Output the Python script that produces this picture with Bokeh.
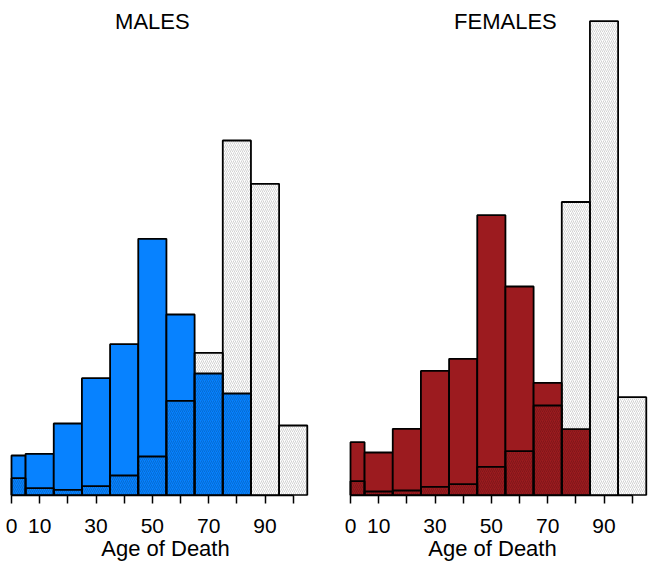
from bokeh.plotting import figure
from bokeh.models import Range1d, LinearAxis, FixedTicker, Label
from bokeh.layouts import row
from bokeh.embed import file_html
from bokeh.resources import INLINE

# Age bins (years)
bin_left = [0, 5, 15, 25, 35, 45, 55, 65, 75, 85, 95]
bin_right = [5, 15, 25, 35, 45, 55, 65, 75, 85, 95, 105]

# Males: coloured (historic) and hatched (modern) distributions (relative heights)
male_hist = [4.0, 4.17, 7.2, 11.73, 15.13, 25.67, 18.1, 12.2, 10.2, 0.0, 0.0]
male_modern = [1.73, 0.73, 0.57, 0.93, 2.0, 3.9, 9.47, 14.27, 35.5, 31.17, 7.0]

# Females
female_hist = [5.33, 4.3, 6.67, 12.47, 13.67, 28.03, 20.9, 11.27, 6.63, 0.0, 0.0]
female_modern = [1.43, 0.4, 0.5, 0.87, 1.13, 2.87, 4.43, 9.0, 29.35, 47.43, 9.83]

tick_values = [0, 10, 20, 30, 40, 50, 60, 70, 80, 90, 100]
tick_labels = {0: "0", 10: "10", 20: "", 30: "30", 40: "", 50: "50",
               60: "", 70: "70", 80: "", 90: "90", 100: ""}

FONT = "Liberation Sans"
FRAME_H = 495
Y_MAX = FRAME_H / 10.0


def panel(title, title_x, hist, modern, color, xr, fw):
    p = figure(frame_width=fw, frame_height=FRAME_H, x_range=xr,
               y_range=Range1d(0, Y_MAX), output_backend="svg",
               toolbar_location=None, x_axis_location=None,
               y_axis_location=None, min_border_left=0, min_border_right=0,
               min_border_top=0, min_border_bottom=0)
    p.outline_line_color = None
    p.xgrid.visible = False
    p.ygrid.visible = False
    p.background_fill_color = "white"
    p.border_fill_color = "white"

    p.quad(left=bin_left, right=bin_right, bottom=0, top=hist,
           fill_color=color, line_color="black", line_width=1.8)
    p.quad(left=bin_left, right=bin_right, bottom=0, top=modern,
           fill_color=None, line_color="black", line_width=1.8,
           hatch_pattern="/", hatch_color="black", hatch_alpha=0.35,
           hatch_scale=4, hatch_weight=0.5)

    ax = LinearAxis(ticker=FixedTicker(ticks=tick_values),
                    major_label_overrides=tick_labels,
                    bounds=(0, 100), axis_label="Age of Death")
    ax.axis_line_width = 1.5
    ax.major_tick_line_width = 1.5
    ax.major_tick_out = 8
    ax.major_tick_in = 0
    ax.minor_tick_line_color = None
    ax.major_label_standoff = 15
    ax.major_label_text_font = FONT
    ax.major_label_text_font_size = "21px"
    ax.major_label_text_color = "black"
    ax.axis_label_standoff = 0
    ax.axis_label_text_font = FONT
    ax.axis_label_text_font_size = "22px"
    ax.axis_label_text_font_style = "normal"
    ax.axis_label_text_color = "black"
    p.add_layout(ax, "below")

    lab = Label(x=title_x, y=Y_MAX - 2.1, text=title, text_align="center",
                text_baseline="alphabetic", text_font=FONT,
                text_font_size="22px", text_color="black")
    p.add_layout(lab)
    return p


SC = 2.817  # px per year
p1 = panel("MALES", 50, male_hist, male_modern, "#0782FF",
           Range1d(-11 / SC, -11 / SC + 330 / SC), 330)
p2 = panel("FEMALES", 55, female_hist, female_modern, "#9C1B1F",
           Range1d(-20 / SC, -20 / SC + 324 / SC), 324)

layout = row(p1, p2, spacing=0)
open("out.html", "w").write(file_html(layout, INLINE))
